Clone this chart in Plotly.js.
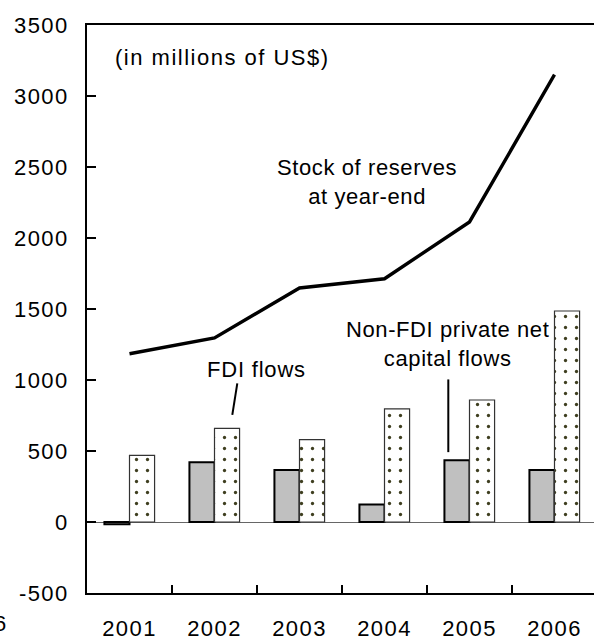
<!DOCTYPE html>
<html>
<head>
<meta charset="utf-8">
<script src="https://cdn.plot.ly/plotly-3.0.1.min.js"></script>
<style>
html,body{margin:0;padding:0;overflow:hidden;background:#fff;}
#chart{width:600px;height:639px;}
.xtick text, .ytick text {letter-spacing:1.4px;}
</style>
</head>
<body>
<div id="chart"></div>
<script>
var years = ['2001','2002','2003','2004','2005','2006'];
var grayBars = [-15, 420, 366, 124, 434, 366];
var dottedBars = [469, 659, 580, 796, 859, 1486];
var reserves = [1185, 1296, 1648, 1713, 2113, 3150];
var yTicks = [-500, 0, 500, 1000, 1500, 2000, 2500, 3000, 3500];
var yTickLabels = ['-500', '0', '500', '1000', '1500', '2000', '2500', '3000', '3500'];

var FONT = 'Liberation Sans, Arial, sans-serif';

function spaced(txt, px) {
  return txt.split('<br>').map(function (l) {
    return '<span style="letter-spacing:' + px + 'px">' + l + '</span>';
  }).join('<br>');
}

var traces = [
  {
    type: 'bar', x: years, y: grayBars, name: 'gray',
    marker: {color: '#c0c0c0', line: {color: '#000', width: 2}},
    hoverinfo: 'skip'
  },
  {
    type: 'bar', x: years, y: dottedBars, name: 'dotted',
    marker: {
      color: '#ffffff',
      line: {color: '#333', width: 1.2},
      pattern: {shape: '.', fgcolor: '#3f3f20', bgcolor: '#ffffff', size: 11, solidity: 0.07}
    },
    hoverinfo: 'skip'
  },
  {
    type: 'scatter', mode: 'lines', x: years, y: reserves, name: 'reserves',
    line: {color: '#000', width: 3.4},
    hoverinfo: 'skip'
  }
];

var layout = {
  width: 600, height: 639,
  margin: {l: 87, r: 3, t: 25, b: 46},
  paper_bgcolor: '#fff', plot_bgcolor: '#fff',
  showlegend: false,
  barmode: 'group', bargap: 0.41, bargroupgap: 0,
  font: {family: FONT, size: 22, color: '#000'},
  xaxis: {
    type: 'category',
    showline: true, linecolor: '#000', linewidth: 2, mirror: true,
    showgrid: false, zeroline: false,
    ticks: 'inside', ticklen: 8, tickwidth: 1.5, tickcolor: '#000',
    tickson: 'boundaries',
    ticklabelstandoff: 15,
    tickfont: {family: FONT, size: 22, color: '#000'}
  },
  yaxis: {
    range: [-500, 3500],
    tickvals: yTicks,
    ticktext: yTickLabels,
    showline: true, linecolor: '#000', linewidth: 2, mirror: true,
    showgrid: false,
    zeroline: true, zerolinecolor: '#666', zerolinewidth: 1,
    ticks: 'inside', ticklen: 9, tickwidth: 1.5, tickcolor: '#000',
    ticklabelstandoff: 12,
    tickfont: {family: FONT, size: 22, color: '#000'}
  },
  annotations: [
    {xref: 'paper', yref: 'y', x: (222.5-87)/510, y: 3271, text: spaced('(in millions of US$)', 1.5), showarrow: false,
     font: {family: FONT, size: 22}, xanchor: 'center', yanchor: 'middle'},
    {xref: 'paper', yref: 'y', x: (366.7-87)/510, y: 2393, text: spaced('Stock of reserves<br>at year-end', 0.6), showarrow: false,
     font: {family: FONT, size: 22}, xanchor: 'center', yanchor: 'middle', align: 'center'},
    {xref: 'paper', yref: 'y', x: (256-87)/510, y: 1075, text: spaced('FDI flows', 0.8), showarrow: false,
     font: {family: FONT, size: 22}, xanchor: 'center', yanchor: 'middle'},
    {xref: 'paper', yref: 'y', x: (447-87)/510, y: 1256, text: spaced('Non-FDI private net<br>capital flows', 0.6), showarrow: false,
     font: {family: FONT, size: 22}, xanchor: 'center', yanchor: 'middle', align: 'center'},
    {xref: 'paper', yref: 'paper', x: (7.5-87)/510, y: (593-623)/568, text: '6', showarrow: false,
     font: {family: FONT, size: 22}, xanchor: 'right', yanchor: 'middle'}
  ],
  shapes: [
    {type: 'line', xref: 'paper', yref: 'y', x0: (237.3-87)/510, x1: (232.3-87)/510, y0: 976, y1: 755,
     line: {color: '#000', width: 2}},
    {type: 'line', xref: 'paper', yref: 'y', x0: (448.3-87)/510, x1: (448.3-87)/510, y0: 1004, y1: 492,
     line: {color: '#000', width: 2}}
  ]
};

Plotly.newPlot('chart', traces, layout, {displayModeBar: false, staticPlot: true});
</script>
</body>
</html>
